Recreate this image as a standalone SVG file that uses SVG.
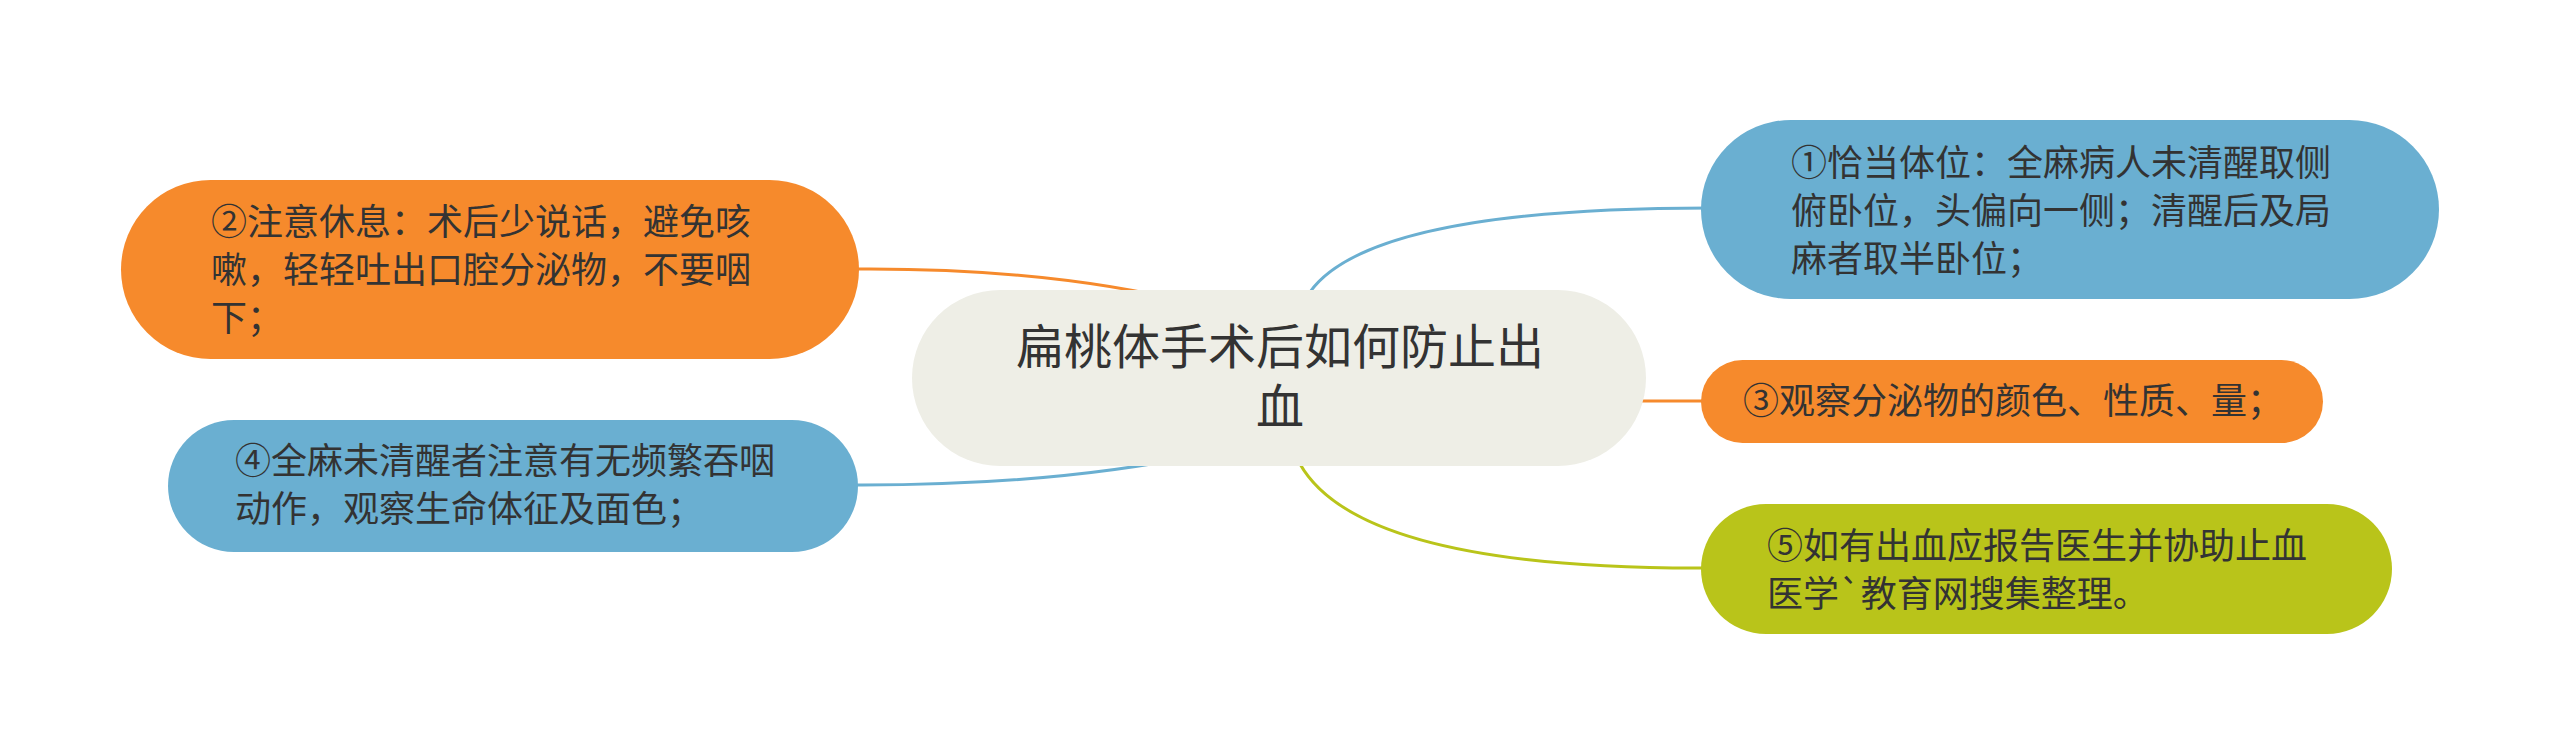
<svg xmlns="http://www.w3.org/2000/svg" width="2560" height="756" viewBox="0 0 2560 756">
<style>
.t{font-family:"Noto Sans CJK SC","Noto Sans",sans-serif;fill:#333333;}
.s{font-size:36px;}
.c{font-size:48px;}
.ln{fill:none;stroke-width:3;stroke-linecap:round;}
.or{fill:#F68A2C;} .bl{fill:#6AAFD1;} .gr{fill:#B9C41A;} .ce{fill:#EEEEE6;}
</style>
<rect width="2560" height="756" fill="#FFFFFF"/>
<g id="connectors">
<path class="ln" stroke="#F68A2C" d="M850,269 Q1050,267 1200,305"/>
<path class="ln" stroke="#6AAFD1" d="M850,485 Q1050,486 1200,455"/>
<path class="ln" stroke="#6AAFD1" d="M1310,292 Q1370,208 1710,208"/>
<path class="ln" stroke="#F68A2C" d="M1640,401 L1710,401"/>
<path class="ln" stroke="#B9C41A" d="M1300,464 Q1360,570 1710,568"/>
</g>
<g id="node-root">
<rect class="ce" x="912" y="290" width="734" height="176" rx="88"/>
<text class="t c" text-anchor="middle"><tspan x="1280" y="364">扁桃体手术后如何防止出</tspan><tspan x="1280" y="424">血</tspan></text>
</g>
<g id="node-2">
<rect class="or" x="121" y="180" width="738" height="179" rx="89.5"/>
<text class="t s"><tspan x="211" y="235">②注意休息：术后少说话，避免咳</tspan><tspan x="211" y="283">嗽，轻轻吐出口腔分泌物，不要咽</tspan><tspan x="211" y="331">下；</tspan></text>
</g>
<g id="node-4">
<rect class="bl" x="168" y="420" width="690" height="132" rx="66"/>
<text class="t s"><tspan x="235" y="474">④全麻未清醒者注意有无频繁吞咽</tspan><tspan x="235" y="522">动作，观察生命体征及面色；</tspan></text>
</g>
<g id="node-1">
<rect class="bl" x="1701" y="120" width="738" height="179" rx="89.5"/>
<text class="t s"><tspan x="1791" y="176">①恰当体位：全麻病人未清醒取侧</tspan><tspan x="1791" y="224">俯卧位，头偏向一侧；清醒后及局</tspan><tspan x="1791" y="272">麻者取半卧位；</tspan></text>
</g>
<g id="node-3">
<rect class="or" x="1701" y="360" width="622" height="83" rx="41.5"/>
<text class="t s"><tspan x="1743" y="414">③观察分泌物的颜色、性质、量；</tspan></text>
</g>
<g id="node-5">
<rect class="gr" x="1701" y="504" width="691" height="130" rx="65"/>
<text class="t s"><tspan x="1767" y="559">⑤如有出血应报告医生并协助止血</tspan><tspan x="1767" y="607">医学`教育网搜集整理。</tspan></text>
</g>
</svg>
